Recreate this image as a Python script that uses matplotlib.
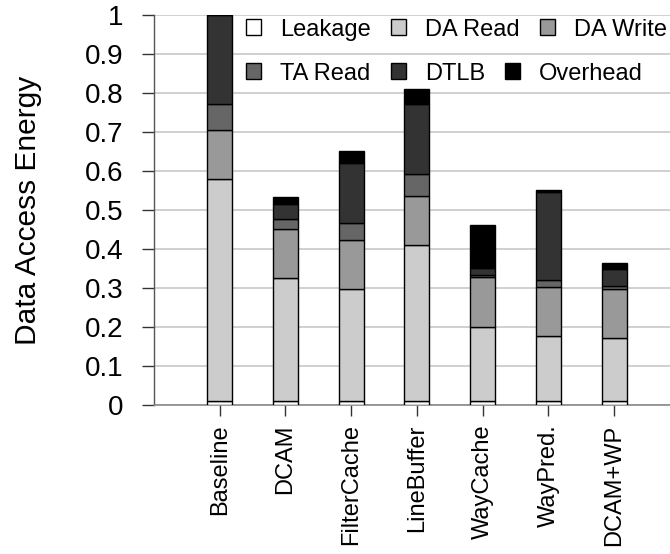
import matplotlib
matplotlib.use("Agg")
import matplotlib.pyplot as plt
import numpy as np

plt.rcParams['font.family'] = ['Liberation Sans', 'DejaVu Sans']

configs = ["Baseline", "DCAM", "FilterCache", "LineBuffer", "WayCache", "WayPred.", "DCAM+WP"]
components = ["Leakage", "DA Read", "DA Write", "TA Read", "DTLB", "Overhead"]

leakage   = [0.010, 0.010, 0.010, 0.010, 0.010, 0.010, 0.010]
da_read   = [0.570, 0.316, 0.287, 0.400, 0.191, 0.167, 0.163]
da_write  = [0.125, 0.126, 0.126, 0.127, 0.126, 0.125, 0.125]
ta_read   = [0.067, 0.024, 0.044, 0.054, 0.006, 0.019, 0.008]
dtlb      = [0.228, 0.040, 0.153, 0.181, 0.019, 0.226, 0.042]
overhead  = [0.000, 0.018, 0.032, 0.038, 0.110, 0.003, 0.015]

series = [leakage, da_read, da_write, ta_read, dtlb, overhead]
colors = ["#ffffff", "#cccccc", "#999999", "#666666", "#333333", "#000000"]

fig = plt.figure(figsize=(6.70, 5.54), dpi=100)
ax = fig.add_axes([0.2299, 0.269, 0.7701, 0.704])

x = np.arange(1, len(configs) + 1)
bottom = np.zeros(len(configs))
handles = []
for name, vals, col in zip(components, series, colors):
    vals = np.array(vals)
    h = ax.bar(x, vals, width=0.38, bottom=bottom, color=col, edgecolor="black",
               linewidth=1.0, label=name, zorder=3)
    handles.append(h)
    bottom += vals

ax.set_xlim(0, 7.85)
ax.set_ylim(0, 1)
ax.set_yticks(np.arange(0, 1.01, 0.1))
ax.set_yticklabels(["0", "0.1", "0.2", "0.3", "0.4", "0.5", "0.6", "0.7", "0.8", "0.9", "1"])
ax.set_xticks(x)
ax.set_xticklabels(configs, rotation=90)
ax.tick_params(axis='y', length=9, width=1, colors='#333333', labelsize=20, labelcolor='black', pad=13)
ax.tick_params(axis='x', length=8, width=1, colors='#333333', labelsize=17, labelcolor='black', pad=6)
ax.yaxis.grid(True, color="#c8c8c8", linewidth=1.2, zorder=0)
ax.set_axisbelow(True)

for s in ["top", "right"]:
    ax.spines[s].set_visible(False)
ax.spines["left"].set_color("#555555")
ax.spines["left"].set_linewidth(1.0)
ax.spines["bottom"].set_color("#888888")
ax.spines["bottom"].set_linewidth(1.2)

ax.set_ylabel("Data Access Energy", fontsize=21.5, labelpad=31)

# two legend rows, each laid out left to right independently
legend_style = dict(loc="upper left", ncol=3, frameon=False, fontsize=17,
                    handlelength=0.65, handleheight=0.65, columnspacing=0.85,
                    handletextpad=0.8, borderaxespad=0)
row1 = ax.legend(handles[:3], components[:3], bbox_to_anchor=(0.16, 1.015), **legend_style)
ax.add_artist(row1)
ax.legend(handles[3:], components[3:], bbox_to_anchor=(0.16, 1.015 - 0.113), **legend_style)

fig.savefig("out.png", dpi=100)
